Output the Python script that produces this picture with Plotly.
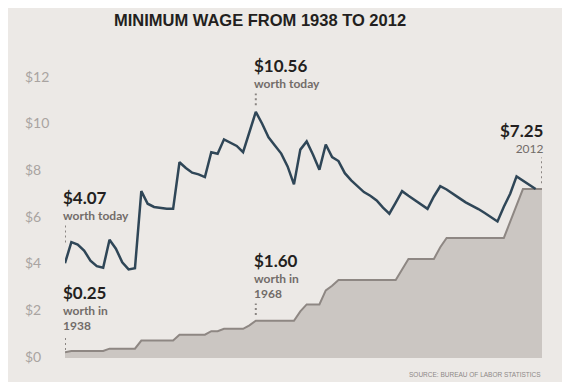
import plotly.graph_objects as go

years = list(range(1938, 2014))

nominal = [0.25, 0.30, 0.30, 0.30, 0.30, 0.30, 0.30, 0.40, 0.40, 0.40,
           0.40, 0.40, 0.75, 0.75, 0.75, 0.75, 0.75, 0.75, 1.00, 1.00,
           1.00, 1.00, 1.00, 1.15, 1.15, 1.25, 1.25, 1.25, 1.25, 1.40,
           1.60, 1.60, 1.60, 1.60, 1.60, 1.60, 1.60, 2.00, 2.30, 2.30,
           2.30, 2.90, 3.10, 3.35, 3.35, 3.35, 3.35, 3.35, 3.35, 3.35,
           3.35, 3.35, 3.35, 3.80, 4.25, 4.25, 4.25, 4.25, 4.25, 4.75,
           5.15, 5.15, 5.15, 5.15, 5.15, 5.15, 5.15, 5.15, 5.15, 5.15,
           5.85, 6.55, 7.25, 7.25, 7.25, 7.25]

real = [4.07, 4.97, 4.87, 4.61, 4.18, 3.94, 3.87, 5.07, 4.69, 4.11,
        3.80, 3.85, 7.16, 6.62, 6.48, 6.43, 6.40, 6.40, 8.40, 8.15,
        7.95, 7.88, 7.76, 8.83, 8.76, 9.38, 9.25, 9.10, 8.83, 9.70,
        10.56, 10.05, 9.47, 9.12, 8.77, 8.22, 7.45, 8.94, 9.29, 8.72,
        8.08, 9.16, 8.62, 8.45, 7.93, 7.62, 7.35, 7.12, 6.96, 6.76,
        6.45, 6.19, 6.67, 7.16, 6.96, 6.77, 6.57, 6.40, 6.93, 7.37,
        7.23, 7.06, 6.86, 6.68, 6.54, 6.39, 6.22, 6.04, 5.86, 6.49,
        7.05, 7.79, 7.62, 7.42, 7.25, None]

tick_vals = [0, 2, 4, 6, 8, 10, 12]
tick_text = ["$0", "$2", "$4", "$6", "$8", "$10", "$12"]

# callouts: (year, headline, sub lines, anchor)
callouts = [
    (1938, "$4.07", ["worth today"], "left"),
    (1938, "$0.25", ["worth in", "1938"], "left"),
    (1968, "$10.56", ["worth today"], "left"),
    (1968, "$1.60", ["worth in", "1968"], "left"),
    (2013, "$7.25", ["2012"], "right"),
]
# leader extents (value units) for each callout
leaders = {
    "$4.07": (4.96, 5.69),
    "$0.25": (0.34, 0.97),
    "$10.56": (10.84, 11.35),
    "$1.60": (1.84, 2.34),
    "$7.25": (7.50, 8.60),
}

BG = "#ece9e6"
DARK = "#231f20"
SUB = "#726c69"
TICK = "#a9a4a1"
LEADER = "#8a8582"

fig = go.Figure()
fig.add_trace(go.Scatter(
    x=years, y=nominal, mode="lines", fill="tozeroy",
    line=dict(color="#8e8783", width=2), fillcolor="#cbc6c2",
    hoverinfo="skip", showlegend=False))
fig.add_trace(go.Scatter(
    x=years, y=real, mode="lines",
    line=dict(color="#2f4657", width=2.5),
    hoverinfo="skip", showlegend=False))

annotations = []
for v, t in zip(tick_vals, tick_text):
    annotations.append(dict(
        x=-0.088, xref="paper", y=v, yref="y", text=t, showarrow=False,
        xanchor="left", yanchor="middle", yshift=2,
        font=dict(family="Lato", size=14, color=TICK)))

shapes = []
for yr, head, subs, anchor in callouts:
    y0, y1 = leaders[head]
    shapes.append(dict(
        type="line", xref="x", yref="y", x0=yr, x1=yr, y0=y0, y1=y1,
        line=dict(color=LEADER, width=2, dash="2px,3px")))
    sub_weight = 400 if subs == ["2012"] else 700
    text = ('<span style="font-size:17px;color:%s;font-weight:700">%s</span>'
            % (DARK, head))
    for s in subs:
        text += '<br><span style="font-weight:%d">%s</span>' % (sub_weight, s)
    annotations.append(dict(
        x=yr, y=y1, xref="x", yref="y", text=text, showarrow=False,
        xanchor=anchor, yanchor="bottom", align=anchor,
        xshift=-3 if anchor == "left" else 3, yshift=1,
        borderpad=0,
        font=dict(family="Lato", size=12, color=SUB)))

annotations.append(dict(
    x=1.002, y=-0.056, xref="paper", yref="paper",
    text="SOURCE: BUREAU OF LABOR STATISTICS", showarrow=False,
    xanchor="right", yanchor="middle",
    font=dict(family="Liberation Sans", size=6.5, color="#8c8886")))

W, H = 562, 374  # page body has an 8px margin inside the 570x382 window
fig.update_layout(
    width=W, height=H,
    margin=dict(l=57, r=28, t=47, b=24),
    paper_bgcolor=BG, plot_bgcolor=BG,
    title=dict(text="<b>MINIMUM WAGE FROM 1938 TO 2012</b>",
               x=(260 - 8) / W, xanchor="center", y=1 - (20.5 - 8) / H,
               yanchor="middle",
               font=dict(family="Liberation Sans", size=16.5, color=DARK)),
    xaxis=dict(range=[1938, 2013], visible=False, fixedrange=True),
    yaxis=dict(range=[0, 13], visible=False, fixedrange=True),
    annotations=annotations, shapes=shapes,
    showlegend=False,
)

fig.write_html("out.html", config={"displayModeBar": False})
